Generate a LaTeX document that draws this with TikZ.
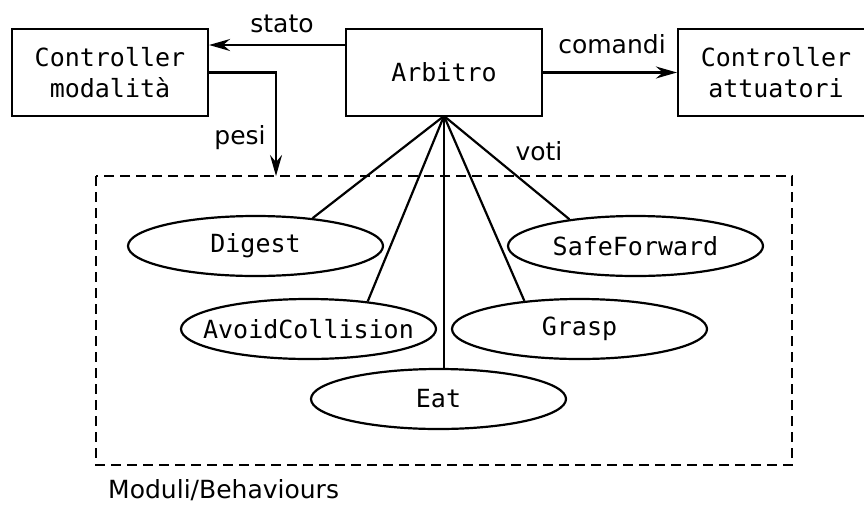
\documentclass[tikz,border=0pt]{standalone}
\usepackage{fontspec}
\setmainfont{DejaVu Sans}
\newfontfamily\monofont{DejaVu Sans Mono}
\usetikzlibrary{arrows.meta,shapes.geometric}
\newcommand{\zw}[1]{\makebox[0pt]{#1}}
\begin{document}
\begin{tikzpicture}[x=1pt,y=-1pt,
  lw/.style={line width=2.2pt},
  boxnode/.style={draw,lw,minimum width=196pt,minimum height=87pt,inner sep=0pt,align=center,font=\monofont\fontsize{25}{31}\selectfont},
  ellnode/.style={draw,ellipse,lw,minimum width=255pt,minimum height=60pt,inner sep=0pt,font=\monofont\fontsize{25}{30}\selectfont},
  lbl/.style={font=\fontsize{25}{30}\selectfont,inner sep=0pt},
  arr/.style={lw,-{Stealth[length=21pt,width=12pt,inset=7pt]}},
  conn/.style={lw},
  grp/.style={lw,dash pattern=on 10pt off 6pt}]
\useasboundingbox (0,0) rectangle (864,504);
\clip (0,0) rectangle (864,504);
\node[boxnode] (cm) at (110,72.5) {Controller\\modalità};
\node[boxnode] (arb) at (444,72.5) {Arbitro};
\node[boxnode] (ca) at (776,72.5) {Controller\\attuatori};
\draw[grp] (96,176) rectangle (792,465);
\node[lbl,anchor=west] (mod) at (108,490) {Moduli/Behaviours};
\node[ellnode] (dig) at (255.5,246) {\zw{Digest}};
\node[ellnode] (avc) at (308.5,329) {\zw{AvoidCollision}};
\node[ellnode] (eat) at (438.5,399) {\zw{Eat}};
\node[ellnode] (sf) at (635.5,246) {\zw{SafeForward}};
\node[ellnode] (gr) at (579.5,329) {\zw{Grasp}};
\coordinate (pt) at (276,176);
\draw[arr] (arb.west |- 0,45) -- (cm.east |- 0,45);
\node[lbl] (lstato) at (282,24) {stato};
\draw[arr] (arb.east) -- (ca.west);
\node[lbl] (lcom) at (612,44) {comandi};
\draw[arr] (cm.east) -| (pt);
\node[lbl] (lpesi) at (240,138) {pesi};
\coordinate (ab) at (444,116);
\draw[conn] (ab) -- (dig.26);
\draw[conn] (ab) -- (avc.25);
\draw[conn] (ab) -- (eat.north -| ab);
\draw[conn] (ab) -- (gr.153);
\draw[conn] (ab) -- (sf.158);
\node[lbl] (lvoti) at (539,151) {voti};
\end{tikzpicture}
\end{document}
